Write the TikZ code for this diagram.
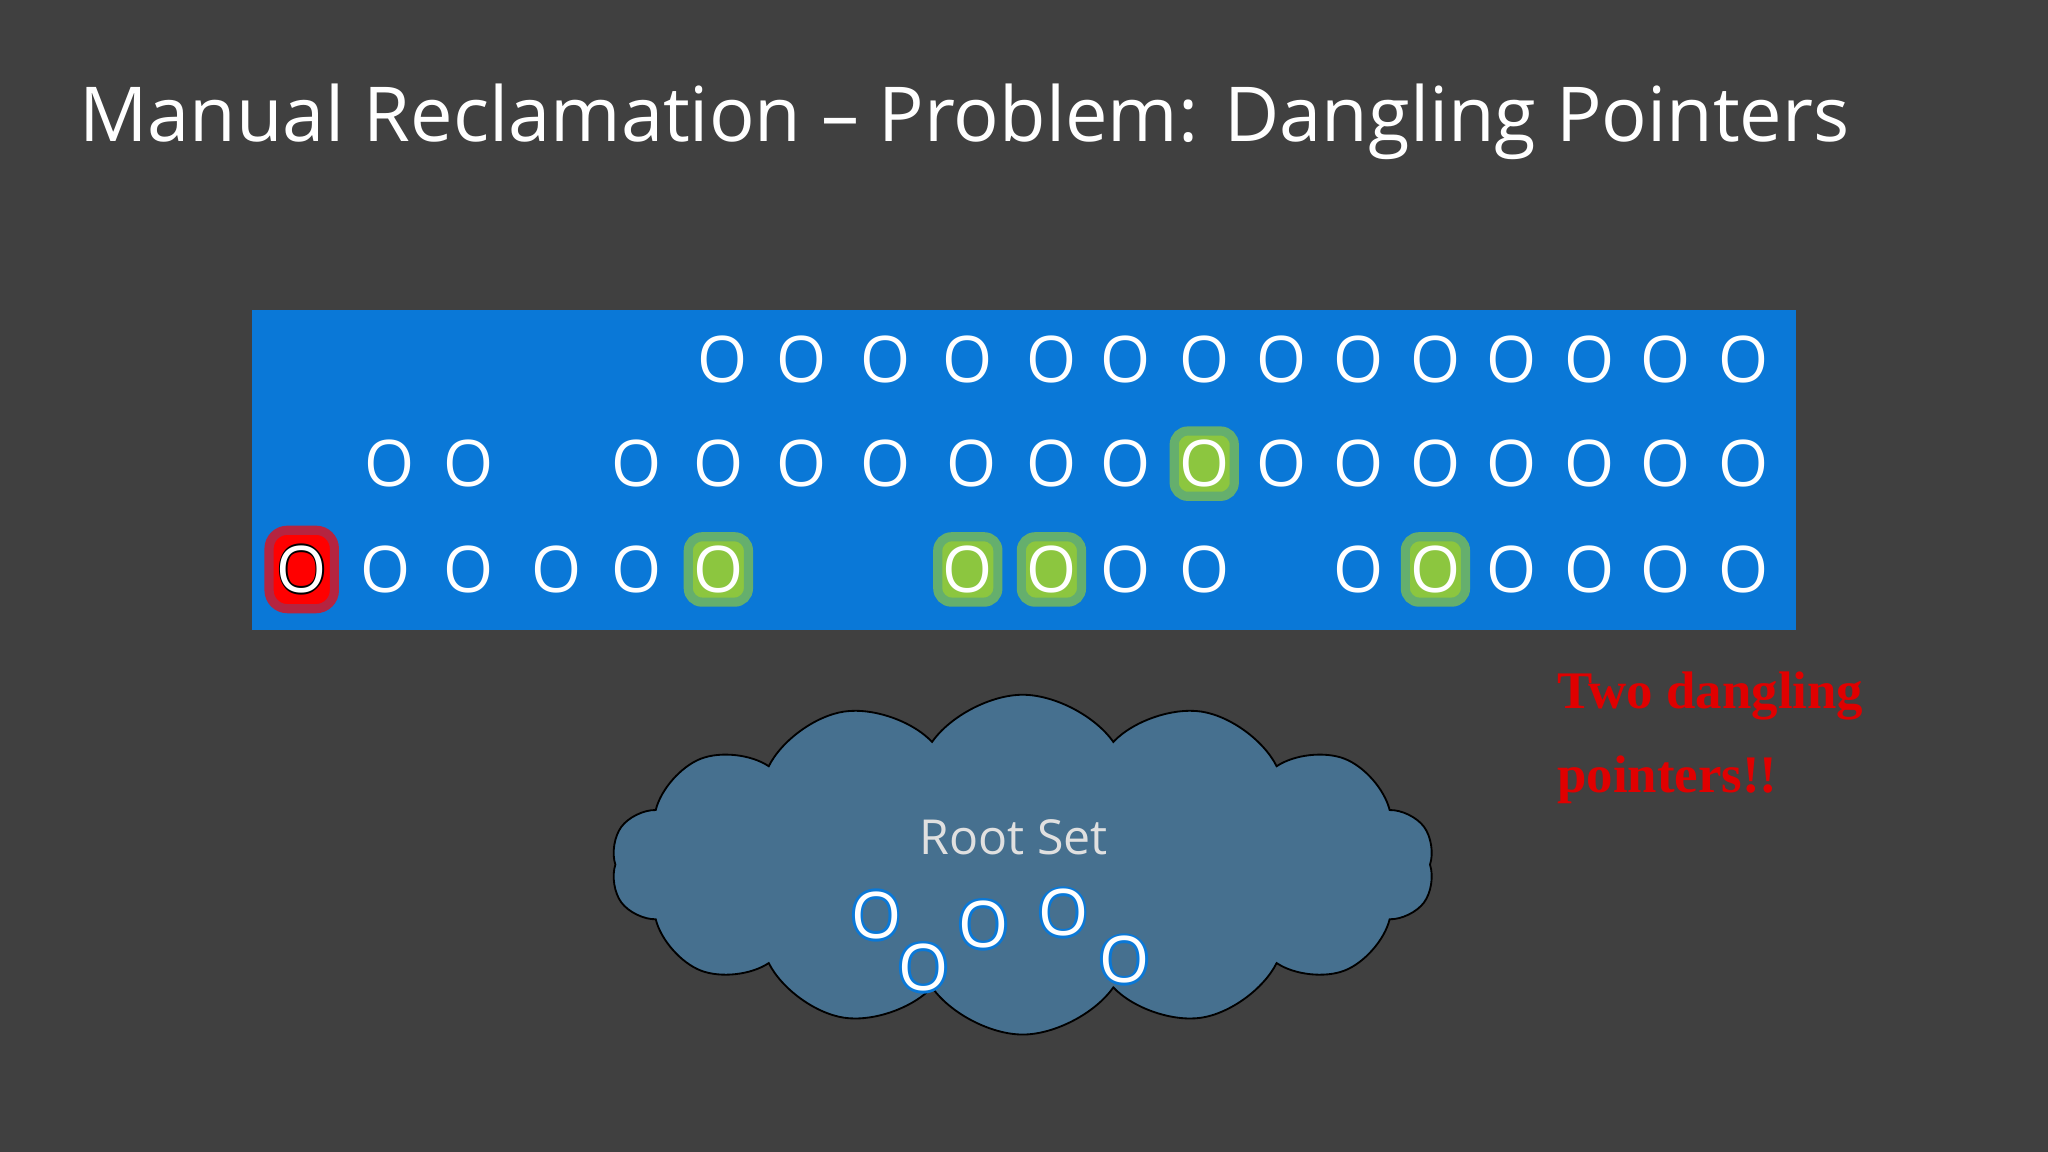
\documentclass[tikz,border=0pt]{standalone}
\usepackage{fontspec}
\setmainfont{Open Sans}
\newfontfamily\serifb{Liberation Serif}
\usetikzlibrary{shapes.symbols}
\definecolor{bg}{HTML}{404040}
\definecolor{panel}{HTML}{0A78D7}
\definecolor{grn}{HTML}{8CC63F}
\definecolor{cloudc}{HTML}{46708F}
\definecolor{redt}{HTML}{E00000}
\begin{document}
\begin{tikzpicture}[x=0.01cm,y=-0.01cm,
  obj/.style={text=white,font=\fontsize{14}{14}\selectfont,inner sep=0pt},
  gl/.style={fill=grn,rounded corners=3pt,minimum width=0.46cm,minimum height=0.5cm,draw=grn!70!panel,line width=2pt},
  rl/.style={fill=red,rounded corners=4pt,minimum width=0.5cm,minimum height=0.6cm,draw=red!70!panel,line width=2pt}]
\fill[bg] (0,0) rectangle (1568,882);
\useasboundingbox (0,0) rectangle (1568,882);
\node[anchor=west,inner sep=0pt,text=white,font=\fontsize{16.5}{16.5}\selectfont] (title) at (60,93) {Manual Reclamation -- Problem: Dangling Pointers};
\fill[panel] (193,237) rectangle (1375,482);
% highlights
\node[rl] (r0) at (231,436) {};
\foreach \x/\y [count=\i] in {922/355,550/436,741/436,805/436,1099/436}
  \node[gl] (g\i) at (\x,\y) {};
\foreach \x [count=\i] in {553,614,678,741,805,862,922,981,1040,1099,1157,1217,1275,1335}
  \node[obj] (a\i) at (\x,275) {O};
\foreach \x [count=\i] in {298,359,487,550,614,678,744,805,862,922,981,1040,1099,1157,1217,1275,1335}
  \node[obj] (b\i) at (\x,355) {O};
\foreach \x [count=\i] in {295,359,426,487,550,741,805,862,922,1040,1099,1157,1217,1275,1335}
  \node[obj] (c\i) at (\x,436) {O};
\foreach \dx/\dy in {-1.2/0,1.2/0,0/-1.2,0/1.2}
  \node[obj,text=black] at (231+\dx,436+\dy) {O};
\node[obj] (c0) at (231,436) {O};
\node[cloud,cloud puffs=14,cloud puff arc=110,aspect=2.8,draw=black,fill=cloudc,minimum width=6.3cm,minimum height=2.6cm] (cloud) at (783,662) {};
\node[text=white!88!black,font=\fontsize{10.5}{10.5}\selectfont] (rs) at (776,641) {Root Set};
\foreach \x/\y [count=\i] in {671/701,707/741,753/708,814/699,861/735}{
  \foreach \dx/\dy in {-2/0,2/0,0/-2,0/2,-1.5/-1.5,1.5/1.5,-1.5/1.5,1.5/-1.5}
    \node[obj,text=panel] at (\x+\dx,\y+\dy) {O};
  \node[obj] (r\i) at (\x,\y) {O};
}
\node[anchor=west,text=redt,font=\serifb\bfseries\fontsize{11.5}{11.5}\selectfont] (t1) at (1180,533) {Two dangling};
\node[anchor=west,text=redt,font=\serifb\bfseries\fontsize{11.5}{11.5}\selectfont] (t2) at (1180,597) {pointers!!};
\end{tikzpicture}
\end{document}
